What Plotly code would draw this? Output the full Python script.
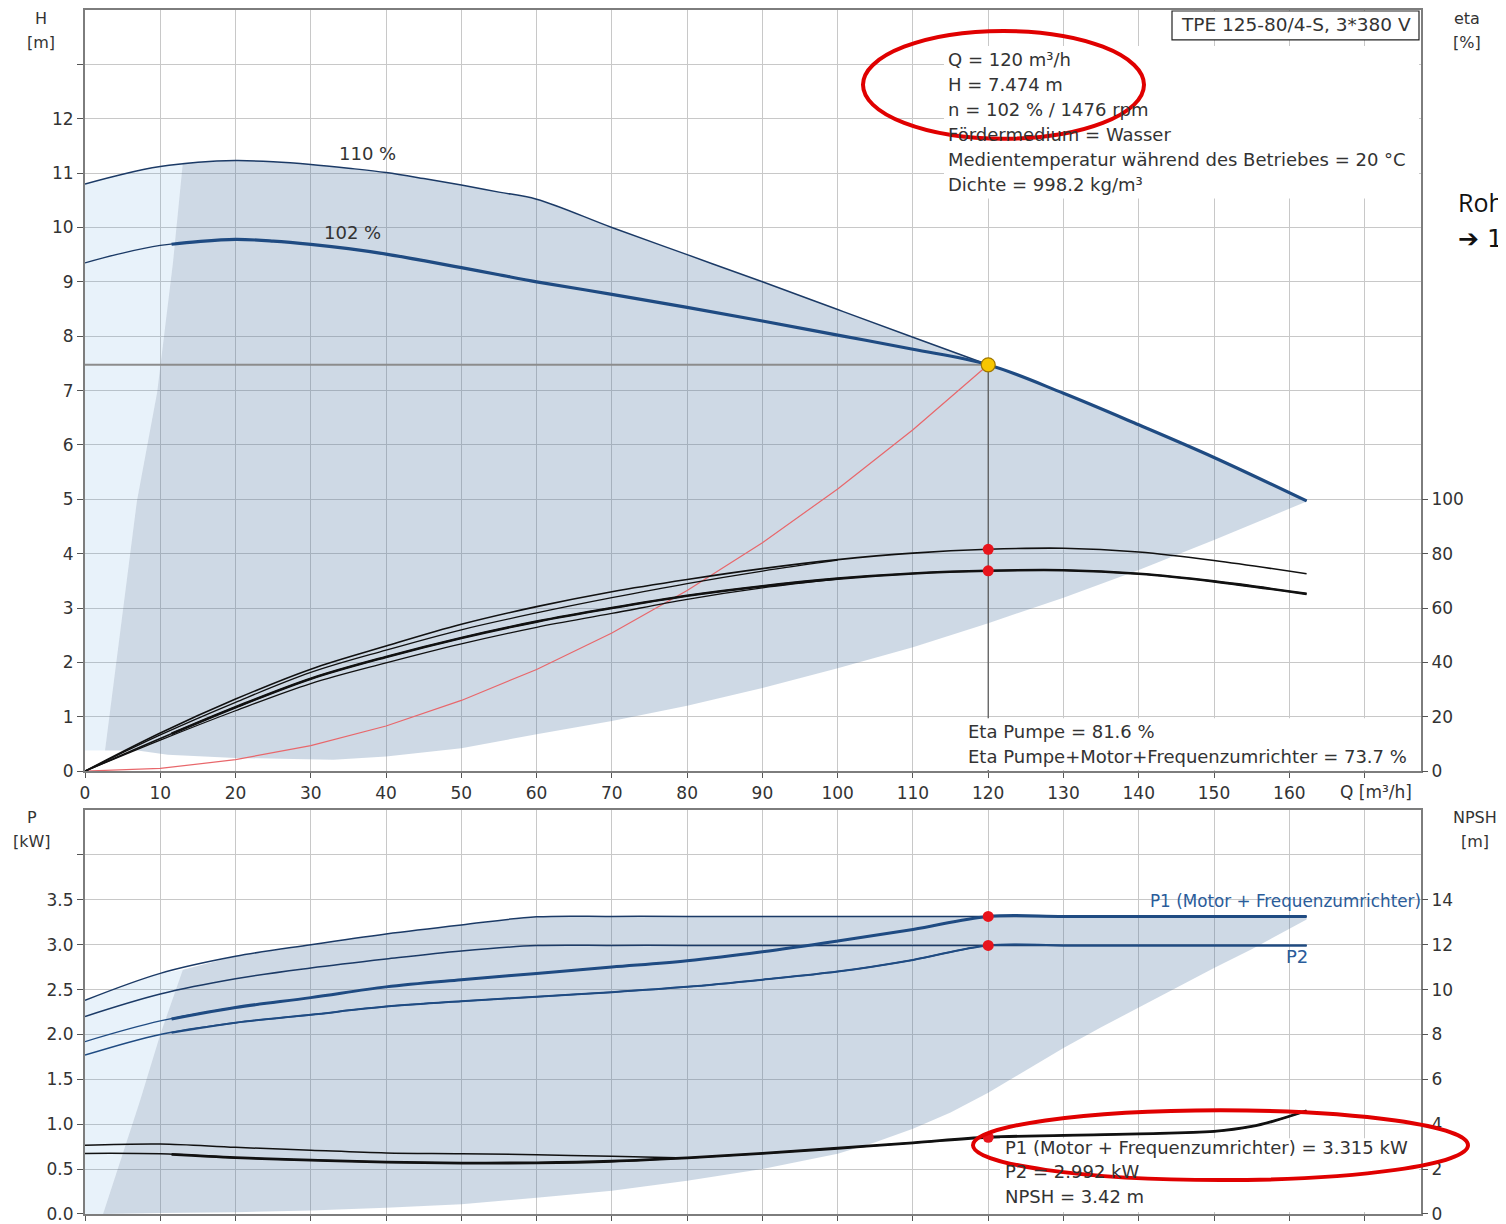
import numpy as np
import plotly.graph_objects as go

# ------------------------------------------------------------------ data
Q_MIN_OP = 11.5          # start of the thick (allowed) part of the curves

# --- top chart: head H [m] over Q [m3/h]
Q_HMAX = [0, 5, 10, 15, 20, 25, 30, 35, 40, 45, 50, 55, 60, 70, 80, 90, 100, 110, 120]
H_HMAX = [10.80, 10.98, 11.12, 11.20, 11.23, 11.21, 11.16, 11.09, 11.01, 10.90, 10.78,
          10.65, 10.52, 10.00, 9.50, 9.00, 8.49, 7.98, 7.474]

Q_H102 = [0, 5, 10, 15, 20, 25, 30, 35, 40, 45, 50, 55, 60, 70, 80, 90, 100, 110, 120,
          130, 140, 150, 162.3]
H_H102 = [9.35, 9.53, 9.67, 9.74, 9.78, 9.75, 9.69, 9.61, 9.51, 9.39, 9.26, 9.13, 9.00,
          8.77, 8.53, 8.28, 8.02, 7.76, 7.474, 6.95, 6.37, 5.77, 4.97]

# operating range (top)
Q_AREA_LEFT = [2.66, 6.9, 9.6, 11.7, 13.0]
H_AREA_LEFT = [0.38, 4.97, 6.98, 9.37, 11.19]
Q_AREA_LOW = [2.66, 7, 11, 20, 33, 40, 50, 60, 70, 80, 90, 100, 110, 120, 130, 140, 150, 162.3]
H_AREA_LOW = [0.38, 0.38, 0.30, 0.24, 0.21, 0.27, 0.42, 0.68, 0.92, 1.20, 1.53, 1.89,
              2.28, 2.72, 3.19, 3.70, 4.25, 4.96]

# system curve
Q_SYS = [0, 10, 20, 30, 40, 50, 60, 70, 80, 90, 100, 110, 120]
H_SYS = [0, 0.05, 0.21, 0.47, 0.83, 1.30, 1.87, 2.54, 3.32, 4.20, 5.19, 6.28, 7.474]

# efficiencies [%]
Q_ETA = [0, 10, 20, 30, 40, 50, 60, 70, 80, 90, 100, 110, 120, 130, 140, 150, 162.3]
ETA_P102 = [0, 14, 26.5, 37.5, 46, 54, 60.5, 66, 70.5, 74.5, 77.8, 80.2, 81.6, 82.0, 80.6, 77.5, 72.6]
ETA_T102 = [0, 12, 23.5, 34, 42, 49, 55, 60, 64.5, 68, 70.8, 72.7, 73.7, 73.9, 72.6, 69.8, 65.2]
Q_ETA110 = [0, 10, 20, 30, 40, 50, 60, 70, 80, 90, 100]
ETA_P110 = [0, 13.3, 25.3, 36.3, 44.5, 52.0, 58.2, 63.8, 69.0, 73.6, 77.6]
ETA_T110 = [0, 11.4, 22.2, 32.2, 39.8, 46.8, 52.9, 58.0, 63.2, 67.4, 70.6]

# --- bottom chart: power P [kW] and NPSH [m]
Q_P = [0, 10, 20, 30, 40, 50, 60, 70, 80, 90, 100, 110, 120, 130, 140, 150, 162.3]
P1_MAX = [2.38, 2.68, 2.87, 3.00, 3.12, 3.22, 3.31, 3.315, 3.315, 3.315, 3.315, 3.315,
          3.315, 3.315, 3.315, 3.315, 3.315]
P2_MAX = [2.20, 2.45, 2.62, 2.74, 2.84, 2.93, 2.99, 2.992, 2.992, 2.992, 2.992, 2.992,
          2.992, 2.992, 2.992, 2.992, 2.992]
P1_102 = [1.92, 2.15, 2.30, 2.41, 2.53, 2.61, 2.68, 2.75, 2.82, 2.92, 3.04, 3.17, 3.315,
          3.315, 3.315, 3.315, 3.315]
P2_102 = [1.77, 2.00, 2.13, 2.22, 2.31, 2.37, 2.42, 2.47, 2.53, 2.61, 2.70, 2.83, 2.992,
          2.992, 2.992, 2.992, 2.992]

Q_PAREA_LEFT = [2.4, 7.3, 10.0, 13.0]
P_PAREA_LEFT = [0.0, 1.26, 2.0, 2.72]
Q_PAREA_LOW = [2.4, 10, 20, 30, 40, 50, 60, 70, 80, 90, 100, 105, 110, 115, 120, 125, 130,
               135, 140, 145, 150, 155, 162.3]
P_PAREA_LOW = [0, 0.01, 0.02, 0.04, 0.07, 0.11, 0.18, 0.26, 0.37, 0.50, 0.67, 0.80, 0.95,
               1.13, 1.35, 1.60, 1.85, 2.08, 2.30, 2.52, 2.74, 2.95, 3.28]

Q_NPSH102 = [0, 10, 20, 30, 40, 50, 60, 70, 80, 90, 100, 110, 120, 130, 140, 150, 155, 158, 162.3]
NPSH_102 = [2.70, 2.68, 2.51, 2.40, 2.31, 2.27, 2.28, 2.35, 2.50, 2.70, 2.93, 3.17, 3.42,
            3.50, 3.57, 3.68, 3.90, 4.15, 4.60]
Q_NPSH110 = [0, 10, 20, 30, 40, 50, 60, 70, 80]
NPSH_110 = [3.06, 3.12, 2.97, 2.84, 2.72, 2.69, 2.64, 2.57, 2.50]

# operating point
Q_OP = 120
H_OP = 7.474
ETA_P_OP = 81.6
ETA_T_OP = 73.7
P1_OP = 3.315
P2_OP = 2.992
NPSH_OP = 3.42

X_TICKS = [0, 10, 20, 30, 40, 50, 60, 70, 80, 90, 100, 110, 120, 130, 140, 150, 160, 170]
X_TICKTEXT = ["0", "10", "20", "30", "40", "50", "60", "70", "80", "90", "100", "110",
              "120", "130", "140", "150", "160", ""]
X_TITLE = "Q [m³/h]"
H_TICKS = list(range(0, 14))
H_TICKTEXT = [str(v) for v in range(0, 13)] + [""]
ETA_TICKS = [0, 20, 40, 60, 80, 100]
P_TICKS = [0, 0.5, 1.0, 1.5, 2.0, 2.5, 3.0, 3.5, 4.0]
P_TICKTEXT = ["0.0", "0.5", "1.0", "1.5", "2.0", "2.5", "3.0", "3.5", ""]
NPSH_TICKS = [0, 2, 4, 6, 8, 10, 12, 14]

INFO_LINES = ["Q = 120 m³/h", "H = 7.474 m", "n = 102 % / 1476 rpm",
              "Fördermedium = Wasser",
              "Medientemperatur während des Betriebes = 20 °C",
              "Dichte = 998.2 kg/m³"]
ETA_LINES = ["Eta Pumpe = 81.6 %", "Eta Pumpe+Motor+Frequenzumrichter = 73.7 %"]
P_LINES = ["P1 (Motor + Frequenzumrichter) = 3.315 kW", "P2 = 2.992 kW", "NPSH = 3.42 m"]

# ------------------------------------------------------------------ helpers
FONT = "DejaVu Sans, Verdana, sans-serif"
OFF = 8                       # page offset of the figure (body margin)
W, HGT = 1498, 1216
ML, MR, MT, MB = 77, 85, 0, 9
PW, PH = W - ML - MR, HGT - MT - MB


def px(x):
    """page pixel x -> paper fraction"""
    return (x - OFF - ML) / PW


def py(y):
    """page pixel y -> paper fraction"""
    return (HGT - MB - (y - OFF)) / PH


def thick_part(q, v, qmin=Q_MIN_OP):
    q = np.asarray(q, float)
    v = np.asarray(v, float)
    m = q > qmin
    return np.r_[qmin, q[m]], np.r_[np.interp(qmin, q, v), v[m]]


NAVY = "#1b3a66"
BLUE = "#1f4b82"
DARK_FILL = "rgba(80,120,160,0.28)"
LIGHT_FILL = "rgba(78,155,217,0.13)"

fig = go.Figure()

# ------------------------------------------------------------------ top chart
qmax_arr = np.asarray(Q_HMAX, float)
hmax_arr = np.asarray(H_HMAX, float)
q102 = np.asarray(Q_H102, float)
h102 = np.asarray(H_H102, float)

ml = qmax_arr < Q_AREA_LEFT[-1]
lq = np.r_[0, qmax_arr[ml], Q_AREA_LEFT[::-1], 0]
lh = np.r_[H_AREA_LOW[0], hmax_arr[ml], H_AREA_LEFT[::-1], H_AREA_LOW[0]]
fig.add_trace(go.Scatter(x=lq, y=lh, fill="toself", fillcolor=LIGHT_FILL,
                         line=dict(width=0), mode="lines", xaxis="x", yaxis="y",
                         hoverinfo="skip"))
mu = qmax_arr > Q_AREA_LEFT[-1]
mr = q102 > Q_OP
uq = np.r_[Q_AREA_LEFT, qmax_arr[mu], q102[mr]]
uh = np.r_[H_AREA_LEFT, hmax_arr[mu], h102[mr]]
dq = np.r_[uq, Q_AREA_LOW[::-1]]
dh = np.r_[uh, H_AREA_LOW[::-1]]
fig.add_trace(go.Scatter(x=dq, y=dh, fill="toself", fillcolor=DARK_FILL,
                         line=dict(width=0), mode="lines", xaxis="x", yaxis="y",
                         hoverinfo="skip"))

fig.add_trace(go.Scatter(x=[0, Q_OP], y=[H_OP, H_OP], mode="lines",
                         line=dict(color="#8c8c8c", width=2), xaxis="x", yaxis="y"))
fig.add_trace(go.Scatter(x=[Q_OP, Q_OP], y=[0, H_OP], mode="lines",
                         line=dict(color="#555555", width=1.2), xaxis="x", yaxis="y"))

fig.add_trace(go.Scatter(x=Q_SYS, y=H_SYS, mode="lines", line=dict(color="#e8676b", width=1.2),
                         xaxis="x", yaxis="y"))

for qq, ee, w in [(Q_ETA110, ETA_T110, 1.3), (Q_ETA110, ETA_P110, 1.3),
                  (Q_ETA, ETA_P102, 1.6), (Q_ETA, ETA_T102, 1.6)]:
    fig.add_trace(go.Scatter(x=qq, y=ee, mode="lines", line=dict(color="#111111", width=w),
                             line_shape="spline", xaxis="x", yaxis="y2"))
tq, te = thick_part(Q_ETA, ETA_T102)
fig.add_trace(go.Scatter(x=tq, y=te, mode="lines", line=dict(color="#111111", width=2.6),
                         line_shape="spline", xaxis="x", yaxis="y2"))

fig.add_trace(go.Scatter(x=Q_HMAX, y=H_HMAX, mode="lines", line=dict(color=NAVY, width=1.5),
                         line_shape="spline", xaxis="x", yaxis="y"))
fig.add_trace(go.Scatter(x=Q_H102, y=H_H102, mode="lines", line=dict(color=NAVY, width=1.3),
                         line_shape="spline", xaxis="x", yaxis="y"))
tq, th = thick_part(Q_H102, H_H102)
fig.add_trace(go.Scatter(x=tq, y=th, mode="lines", line=dict(color=BLUE, width=3.2),
                         line_shape="spline", xaxis="x", yaxis="y"))

fig.add_trace(go.Scatter(x=[Q_OP, Q_OP], y=[ETA_P_OP, ETA_T_OP], mode="markers",
                         marker=dict(color="#e8141c", size=11), xaxis="x", yaxis="y2"))
fig.add_trace(go.Scatter(x=[Q_OP], y=[H_OP], mode="markers",
                         marker=dict(color="#f7c600", size=14, line=dict(color="#a07800", width=1.2)),
                         xaxis="x", yaxis="y"))

# ------------------------------------------------------------------ bottom chart
qp = np.asarray(Q_P, float)
p1max = np.asarray(P1_MAX, float)
ml = qp < Q_PAREA_LEFT[-1]
lq = np.r_[0, 0, qp[ml], Q_PAREA_LEFT[::-1], 0]
lp = np.r_[0, p1max[0], p1max[ml], P_PAREA_LEFT[::-1], 0]
fig.add_trace(go.Scatter(x=lq, y=lp, fill="toself", fillcolor=LIGHT_FILL,
                         line=dict(width=0), mode="lines", xaxis="x2", yaxis="y3",
                         hoverinfo="skip"))
mu = qp > Q_PAREA_LEFT[-1]
dq = np.r_[Q_PAREA_LEFT, qp[mu], Q_PAREA_LOW[::-1]]
dp = np.r_[P_PAREA_LEFT, p1max[mu], P_PAREA_LOW[::-1]]
fig.add_trace(go.Scatter(x=dq, y=dp, fill="toself", fillcolor=DARK_FILL,
                         line=dict(width=0), mode="lines", xaxis="x2", yaxis="y3",
                         hoverinfo="skip"))

fig.add_trace(go.Scatter(x=Q_NPSH110, y=NPSH_110, mode="lines", line=dict(color="#111111", width=1.5),
                         line_shape="spline", xaxis="x2", yaxis="y4"))
fig.add_trace(go.Scatter(x=Q_NPSH102, y=NPSH_102, mode="lines", line=dict(color="#111111", width=1.5),
                         line_shape="spline", xaxis="x2", yaxis="y4"))
tq, tn = thick_part(Q_NPSH102, NPSH_102)
fig.add_trace(go.Scatter(x=tq, y=tn, mode="lines", line=dict(color="#111111", width=2.8),
                         line_shape="spline", xaxis="x2", yaxis="y4"))

for yy, w, c in [(P1_MAX, 1.5, NAVY), (P2_MAX, 1.5, NAVY), (P2_102, 1.5, BLUE), (P1_102, 1.3, BLUE)]:
    fig.add_trace(go.Scatter(x=Q_P, y=yy, mode="lines", line=dict(color=c, width=w),
                             line_shape="spline", xaxis="x2", yaxis="y3"))
tq, tp = thick_part(Q_P, P1_102)
fig.add_trace(go.Scatter(x=tq, y=tp, mode="lines", line=dict(color=BLUE, width=3.0),
                         line_shape="spline", xaxis="x2", yaxis="y3"))
tq, tp = thick_part(Q_P, P2_102)
fig.add_trace(go.Scatter(x=tq, y=tp, mode="lines", line=dict(color=BLUE, width=2.0),
                         line_shape="spline", xaxis="x2", yaxis="y3"))

fig.add_trace(go.Scatter(x=[Q_OP, Q_OP], y=[P1_OP, P2_OP], mode="markers",
                         marker=dict(color="#e8141c", size=11), xaxis="x2", yaxis="y3"))
fig.add_trace(go.Scatter(x=[Q_OP], y=[NPSH_OP], mode="markers",
                         marker=dict(color="#e8141c", size=11), xaxis="x2", yaxis="y4"))

# ------------------------------------------------------------------ axes
top_dom = [py(771), 1.0]
bot_dom = [0.0, py(810)]
tickfont = dict(family=FONT, size=17, color="#333333")
grid = "#c8c8c8"
frame = "#7d7d7d"

xcommon = dict(range=[0, 177.5], tickmode="array", tickvals=X_TICKS, showgrid=True,
               gridcolor=grid, gridwidth=1, showline=True, linecolor=frame, linewidth=2,
               mirror=True, ticks="outside", ticklen=5, tickcolor="#555", tickfont=tickfont,
               zeroline=False)
fig.update_layout(
    xaxis=dict(xcommon, anchor="y", ticktext=X_TICKTEXT, domain=[0, 1]),
    xaxis2=dict(xcommon, anchor="y3", ticktext=X_TICKTEXT, showticklabels=False,
                domain=[0, 1]),
    yaxis=dict(domain=top_dom, range=[0, 14], tickmode="array", tickvals=H_TICKS,
               ticktext=H_TICKTEXT, showgrid=True, gridcolor=grid, showline=True,
               linecolor=frame, linewidth=2, mirror=True, ticks="outside", ticklen=6,
               tickcolor="#555", tickfont=tickfont, zeroline=False, anchor="x"),
    yaxis2=dict(overlaying="y", side="right", range=[0, 280], tickmode="array",
                tickvals=ETA_TICKS, showgrid=False, showline=False, ticks="outside",
                ticklen=6, tickcolor="#555", tickfont=tickfont, zeroline=False, anchor="x"),
    yaxis3=dict(domain=bot_dom, range=[0, 4.5], tickmode="array", tickvals=P_TICKS,
                ticktext=P_TICKTEXT, showgrid=True, gridcolor=grid, showline=True,
                linecolor=frame, linewidth=2, mirror=True, ticks="outside", ticklen=6,
                tickcolor="#555", tickfont=tickfont, zeroline=False, anchor="x2"),
    yaxis4=dict(overlaying="y3", side="right", range=[0, 18], tickmode="array",
                tickvals=NPSH_TICKS, showgrid=False, showline=False, ticks="outside",
                ticklen=6, tickcolor="#555", tickfont=tickfont, zeroline=False, anchor="x2"),
)

# ------------------------------------------------------------------ shapes
shapes = []


def rect_px(x0, y0, x1, y1, **kw):
    return dict(type="rect", xref="paper", yref="paper", x0=px(x0), x1=px(x1),
                y0=py(y1), y1=py(y0), **kw)


shapes.append(rect_px(944, 44, 1419, 197, fillcolor="white", line=dict(width=0), layer="above"))
shapes.append(rect_px(960, 718, 1419, 770, fillcolor="white", line=dict(width=0), layer="above"))
shapes.append(rect_px(1000, 1139, 1419, 1213, fillcolor="white", line=dict(width=0), layer="above"))
shapes.append(rect_px(1172, 9, 1419, 38, fillcolor="white", line=dict(color="#222", width=1.2),
                      layer="above"))
shapes.append(dict(type="circle", xref="paper", yref="paper", x0=px(863), x1=px(1144),
                   y0=py(137), y1=py(29), line=dict(color="#e00000", width=4), layer="above"))
shapes.append(dict(type="circle", xref="paper", yref="paper", x0=px(973), x1=px(1468),
                   y0=py(1181), y1=py(1111), line=dict(color="#e00000", width=4), layer="above"))
fig.update_layout(shapes=shapes)

# ------------------------------------------------------------------ annotations
ann = []


def text(x, y, s, size=18, anchor="left", color="#333333", family=FONT):
    ann.append(dict(x=px(x), y=py(y), xref="paper", yref="paper", text=s, showarrow=False,
                    xanchor=anchor, yanchor="middle", xshift=-2 if anchor == "left" else 0,
                    font=dict(family=family, size=size, color=color)))


text(1296, 23, "TPE 125-80/4-S, 3*380 V", size=18.5, anchor="center")
for i, s in enumerate(INFO_LINES):
    text(948, 58 + 25 * i, s)
for i, s in enumerate(ETA_LINES):
    text(968, 731 + 25 * i, s)
for i, s in enumerate(P_LINES):
    text(1005, 1148 + 24.5 * i, s)

text(367, 152, "110 %", anchor="center")
text(352, 231, "102 %", anchor="center")
text(1150, 901, "P1 (Motor + Frequenzumrichter)", size=16.8, color="#2a5c9a")
text(1286, 957, "P2", color="#2a5c9a")
text(1376, 792, X_TITLE, size=17, anchor="center")

text(41, 17, "H", size=16, anchor="center")
text(41, 41, "[m]", size=16, anchor="center")
text(1467, 17, "eta", size=16, anchor="center")
text(1467, 41, "[%]", size=16, anchor="center")
text(32, 818, "P", size=16, anchor="center")
text(32, 842, "[kW]", size=16, anchor="center")
text(1475, 818, "NPSH", size=16, anchor="center")
text(1475, 842, "[m]", size=16, anchor="center")

text(1458, 200, "Roh", size=25, color="#111111", family="Open Sans, Noto Sans, sans-serif")
text(1458, 237, "➔ 1", size=25, color="#111111", family="DejaVu Sans, Noto Sans, sans-serif")

fig.update_layout(annotations=ann)

fig.update_layout(width=W, height=HGT, margin=dict(l=ML, r=MR, t=MT, b=MB),
                  plot_bgcolor="white", paper_bgcolor="white", showlegend=False,
                  font=dict(family=FONT, size=17, color="#333333"))

fig.write_html("out.html")
